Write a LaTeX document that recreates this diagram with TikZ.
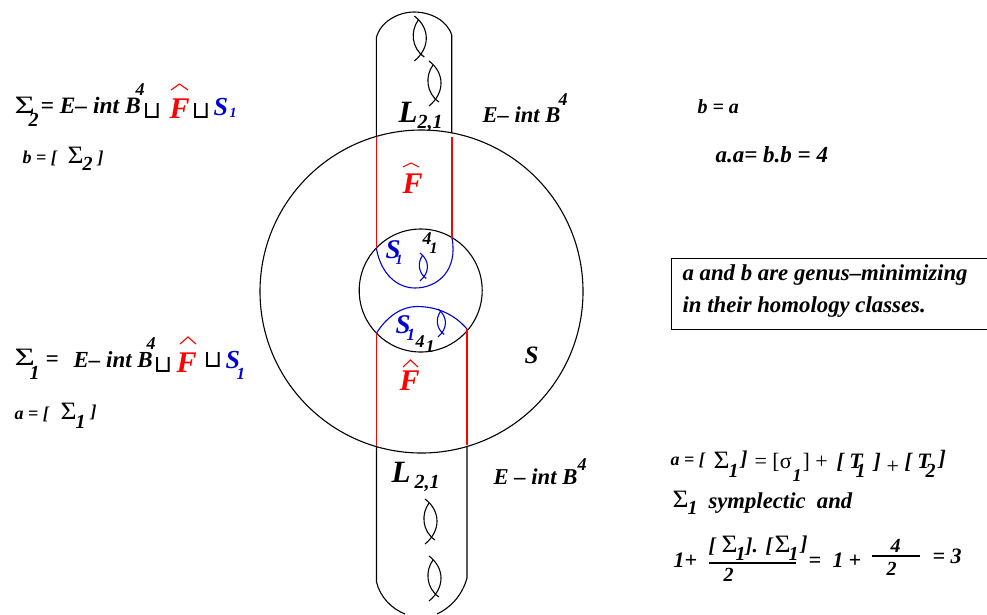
\documentclass[tikz,border=0pt]{standalone}
\usepackage{fontspec}
\setmainfont{Liberation Serif}
\newfontfamily\symfont{DejaVu Sans}
\usepackage{xcolor}
\definecolor{fred}{rgb}{1,0,0}
\definecolor{sblue}{rgb}{0,0,.82}
\newcommand{\Sg}{\scalebox{1.4}[1]{Σ}}
\newcommand{\Sh}{\scalebox{1.1}[1]{Σ}}
\tikzset{
  bi/.style={anchor=base west,inner sep=0pt,font=\bfseries\itshape\fontsize{#1}{#1}\selectfont},
  rm/.style={anchor=base west,inner sep=0pt,font=\fontsize{#1}{#1}\selectfont},
  cup/.style={anchor=base,inner sep=0pt,font=\symfont\fontsize{#1}{#1}\selectfont},
  clasp/.pic={
    \draw[pic actions] (0,0) .. controls (16,12) and (16,32) .. (0,45);
    \draw[pic actions] (4,4) .. controls (-4,15) and (-3,32) .. (10,41);
  }
}
\begin{document}
\begin{tikzpicture}[x=1pt,y=-1pt,line width=1.1pt]
  \useasboundingbox (0,0) rectangle (987,614);
  % tubes and circles
  \draw (421.5,291.5) circle (161.5);
  \draw (420.7,290.5) circle (61.5);
  \draw (376.3,136.5) -- (376.3,38) .. controls (380,22) and (398,12) .. (414,12)
    .. controls (430,12) and (447,20) .. (451.7,35) -- (451.7,133);
  \draw (376.5,446.5) -- (376.5,582) .. controls (380,597) and (392,609) .. (405,614);
  \draw (467,446) -- (467,578) .. controls (462,596) and (450,608) .. (437,614);
  \draw[fred] (376.3,137) -- (376.3,248);
  \draw[fred] (452,137) -- (452,238);
  \draw[fred] (376.5,333) -- (376.5,446);
  \draw[fred] (467,329) -- (467,445);
  \draw[sblue] (376.3,248) .. controls (381,275) and (398,288) .. (415,288)
    .. controls (438,288) and (458,270) .. (452,238);
  \draw[sblue] (376.5,333) .. controls (388,315) and (403,306.5) .. (417,306.5)
    .. controls (438,306.5) and (455,315) .. (467,329);
  % clasps
  \pic at (414.3,16) {clasp};
  \pic at (429,61) {clasp};
  \pic at (425,499) {clasp};
  \pic at (429,556) {clasp};
  \pic[sblue,scale=.62] at (420,253) {clasp};
  \pic[sblue,scale=.62] at (438,309) {clasp};
  % hats
  \draw[fred] (171,90) -- (179.5,84) -- (188,90);
  \draw[fred] (180,344) -- (188,337) -- (196,344);
  \draw[fred] (403,167) -- (411,163) -- (419,167);
  \draw[fred] (403,367) -- (410.5,360) -- (418,367);
  % upper left
  \node[rm=25] (sa) at (14,113) {\Sg};
  \node[bi=20] (sai) at (28,126) {2};
  \node[bi=23.5] (ea) at (40,113) {= E– int B};
  \node[bi=18] (eaf) at (135,95) {4};
  \node[cup=24] (ua) at (152,118) {⊔};
  \node[bi=30,text=fred] (fa) at (169,118) {F};
  \node[cup=24] (ub) at (201,118) {⊔};
  \node[bi=26,text=sblue] (ssa) at (213,115) {S};
  \node[bi=14,text=sblue] (ssai) at (229,117) {1};
  \node[bi=18] (ba) at (22,163) {b = [};
  \node[rm=25] (sb) at (67,163) {\Sh};
  \node[bi=20] (sbi) at (82,170) {2};
  \node[bi=18] (bb) at (97,163) {]};
  % lower left
  \node[rm=25] (sc) at (14,365) {\Sg};
  \node[bi=20] (sci) at (29,379) {1};
  \node[bi=23] (eq) at (45,366) {=};
  \node[bi=23] (eb) at (73,367) {E– int B};
  \node[bi=18] (ebf) at (146,349) {4};
  \node[cup=24] (uc) at (163,372) {⊔};
  \node[bi=30,text=fred] (fb) at (176,372) {F};
  \node[cup=24] (ud) at (213,367) {⊔};
  \node[bi=26,text=sblue] (ssb) at (225,368) {S};
  \node[bi=17,text=sblue] (ssbi) at (236,379) {1};
  \node[bi=18] (aa) at (14,419) {a = [};
  \node[rm=25] (sd) at (60,419) {\Sh};
  \node[bi=20] (sdi) at (75,428) {1};
  \node[bi=18] (ab) at (90,417) {]};
  % centre
  \node[bi=31] (la) at (398,122) {L};
  \node[bi=20] (lai) at (417,128) {2,1};
  \node[bi=22.6] (ec) at (482,122) {E– int B};
  \node[bi=18] (ecf) at (558,105) {4};
  \node[bi=30,text=fred] (fc) at (402,193) {F};
  \node[bi=27,text=sblue] (ssc) at (385,258) {S};
  \node[bi=14,text=sblue] (ssci) at (395,264) {1};
  \node[bi=18] (fo) at (422,244) {4};
  \node[bi=16] (foi) at (429,253) {1};
  \node[bi=27,text=sblue] (ssd) at (395,333) {S};
  \node[bi=17,text=sblue] (ssdi) at (406,340) {1};
  \node[bi=18] (fp) at (415,347) {4};
  \node[bi=18] (fpi) at (425,352) {1};
  \node[bi=30,text=fred] (fd) at (399,390) {F};
  \node[bi=25] (s) at (524,363) {S};
  \node[bi=31] (lb) at (391,482) {L};
  \node[bi=20] (lbi) at (414,488) {2,1};
  \node[bi=22.7] (ed) at (493,484) {E – int B};
  \node[bi=18] (edf) at (577,470) {4};
  % right column
  \node[bi=20] (ba2) at (697,113) {b = a};
  \node[bi=23] (aabb) at (715,162) {a.a= b.b = 4};
  \draw[line width=.9pt] (987.5,258) -- (671,258) -- (671,329) -- (987.5,329);
  \node[bi=22.8] (gen) at (682,280) {a and b are genus–minimizing};
  \node[bi=22.8] (hom) at (682,312) {in their homology classes.};
  % lower right
  \node[bi=18] (ac) at (670,465) {a = [};
  \node[rm=25] (se) at (713,468) {\Sh};
  \node[bi=20] (sei) at (728,477) {1};
  \node[bi=21] (ad) at (740,465) {]};
  \node[rm=22] (sg) at (754,468) {= [σ};
  \node[bi=18] (sgi) at (792,481) {1};
  \node[rm=22] (sh) at (802,468) {] +};
  \node[bi=22] (ta) at (836,468) {[ T};
  \node[bi=20] (tai) at (855,477) {1};
  \node[bi=22] (tb) at (873,468) {]};
  \node[rm=22] (pl) at (886,473) {+};
  \node[bi=22] (tc) at (904,468) {[ T};
  \node[bi=20] (tci) at (925,477) {2};
  \node[bi=22] (td) at (938,465) {]};
  \node[rm=25] (sf) at (672,507) {\Sh};
  \node[bi=20] (sfi) at (687,514) {1};
  \node[bi=22.7] (sym) at (708,508) {symplectic\ \ and};
  \node[bi=22] (one) at (673,567) {1+};
  \node[bi=21] (na) at (708,552) {[};
  \node[rm=25] (sn) at (721,552) {\Sh};
  \node[bi=20] (sni) at (735,560) {1};
  \node[bi=21] (nb) at (745,552) {].};
  \node[bi=21] (nc) at (765,552) {[};
  \node[rm=25] (so) at (774,552) {\Sh};
  \node[bi=20] (soi) at (788,560) {1};
  \node[bi=21] (nd) at (800,550) {]};
  \coordinate (ra) at (709,563);
  \coordinate (rb) at (796,563);
  \draw (ra) -- (rb);
  \node[bi=20] (de) at (723,581) {2};
  \node[bi=22] (eqa) at (808,567) {=};
  \node[bi=22] (onb) at (832,567) {1};
  \node[bi=22] (plb) at (848,567) {+};
  \node[bi=20] (fn) at (890,552) {4};
  \coordinate (rc) at (872,556);
  \coordinate (rd) at (920,556);
  \draw (rc) -- (rd);
  \node[bi=20] (fd2) at (886,575) {2};
  \node[bi=22] (three) at (932,563) {= 3};
\end{tikzpicture}
\end{document}
